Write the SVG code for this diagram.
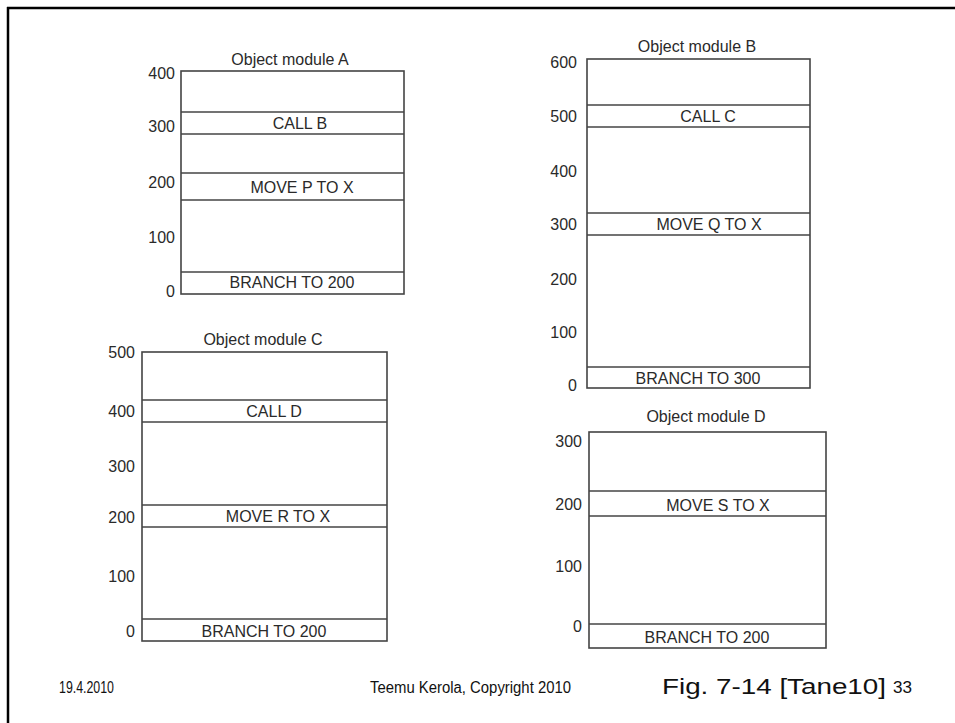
<svg xmlns="http://www.w3.org/2000/svg" width="955" height="723" viewBox="0 0 955 723">
<style>
.box{fill:none;stroke:#444;stroke-width:1.6}
.sep{stroke:#444;stroke-width:1.6}
.t{font-family:"Liberation Sans",Arial,sans-serif;font-size:16px;fill:#2a2a2a}
.c{text-anchor:middle}
.r{text-anchor:end}
.f{font-family:"Liberation Sans",Arial,sans-serif;fill:#111}
</style>
<rect width="955" height="723" fill="#fff"/>
<g id="frame">
<line x1="7" y1="8" x2="955" y2="8" stroke="#000" stroke-width="2.5"/>
<line x1="8" y1="7" x2="8" y2="723" stroke="#000" stroke-width="2.5"/>
</g>
<g id="moduleA">
<text class="t c" x="290" y="65">Object module A</text>
<rect class="box" x="181" y="71" width="223" height="223"/>
<line class="sep" x1="181" y1="112" x2="404" y2="112"/>
<line class="sep" x1="181" y1="134" x2="404" y2="134"/>
<line class="sep" x1="181" y1="173" x2="404" y2="173"/>
<line class="sep" x1="181" y1="200" x2="404" y2="200"/>
<line class="sep" x1="181" y1="272" x2="404" y2="272"/>
<text class="t c" x="300" y="129">CALL B</text>
<text class="t c" x="302" y="193">MOVE P TO X</text>
<text class="t c" x="292" y="288">BRANCH TO 200</text>
<text class="t r" x="175" y="79">400</text>
<text class="t r" x="175" y="132">300</text>
<text class="t r" x="175" y="188">200</text>
<text class="t r" x="175" y="243">100</text>
<text class="t r" x="175" y="297">0</text>
</g>
<g id="moduleB">
<text class="t c" x="697" y="52">Object module B</text>
<rect class="box" x="587" y="59" width="223" height="329"/>
<line class="sep" x1="587" y1="105" x2="810" y2="105"/>
<line class="sep" x1="587" y1="127" x2="810" y2="127"/>
<line class="sep" x1="587" y1="213" x2="810" y2="213"/>
<line class="sep" x1="587" y1="235" x2="810" y2="235"/>
<line class="sep" x1="587" y1="367" x2="810" y2="367"/>
<text class="t c" x="708" y="122">CALL C</text>
<text class="t c" x="709" y="230">MOVE Q TO X</text>
<text class="t c" x="698" y="384">BRANCH TO 300</text>
<text class="t r" x="577" y="68">600</text>
<text class="t r" x="577" y="122">500</text>
<text class="t r" x="577" y="177">400</text>
<text class="t r" x="577" y="230">300</text>
<text class="t r" x="577" y="285">200</text>
<text class="t r" x="577" y="338">100</text>
<text class="t r" x="577" y="391">0</text>
</g>
<g id="moduleC">
<text class="t c" x="263" y="345">Object module C</text>
<rect class="box" x="142" y="352" width="245" height="289"/>
<line class="sep" x1="142" y1="400" x2="387" y2="400"/>
<line class="sep" x1="142" y1="422" x2="387" y2="422"/>
<line class="sep" x1="142" y1="505" x2="387" y2="505"/>
<line class="sep" x1="142" y1="527" x2="387" y2="527"/>
<line class="sep" x1="142" y1="619" x2="387" y2="619"/>
<text class="t c" x="274" y="417">CALL D</text>
<text class="t c" x="278" y="522">MOVE R TO X</text>
<text class="t c" x="264" y="637">BRANCH TO 200</text>
<text class="t r" x="135" y="358">500</text>
<text class="t r" x="135" y="417">400</text>
<text class="t r" x="135" y="472">300</text>
<text class="t r" x="135" y="523">200</text>
<text class="t r" x="135" y="582">100</text>
<text class="t r" x="135" y="637">0</text>
</g>
<g id="moduleD">
<text class="t c" x="706" y="422">Object module D</text>
<rect class="box" x="589" y="432" width="237" height="216"/>
<line class="sep" x1="589" y1="491" x2="826" y2="491"/>
<line class="sep" x1="589" y1="516" x2="826" y2="516"/>
<line class="sep" x1="589" y1="624" x2="826" y2="624"/>
<text class="t c" x="718" y="511">MOVE S TO X</text>
<text class="t c" x="707" y="643">BRANCH TO 200</text>
<text class="t r" x="582" y="447">300</text>
<text class="t r" x="582" y="510">200</text>
<text class="t r" x="582" y="572">100</text>
<text class="t r" x="582" y="632">0</text>
</g>
<g id="footer">
<text class="f" x="59" y="693" font-size="16" textLength="55" lengthAdjust="spacingAndGlyphs">19.4.2010</text>
<text class="f" x="370" y="693" font-size="16" textLength="201" lengthAdjust="spacingAndGlyphs">Teemu Kerola, Copyright 2010</text>
<text class="f" x="662" y="694" font-size="22" textLength="224" lengthAdjust="spacingAndGlyphs">Fig. 7-14 [Tane10]</text>
<text class="f" x="893" y="693" font-size="16" textLength="19" lengthAdjust="spacingAndGlyphs">33</text>
</g>
</svg>
